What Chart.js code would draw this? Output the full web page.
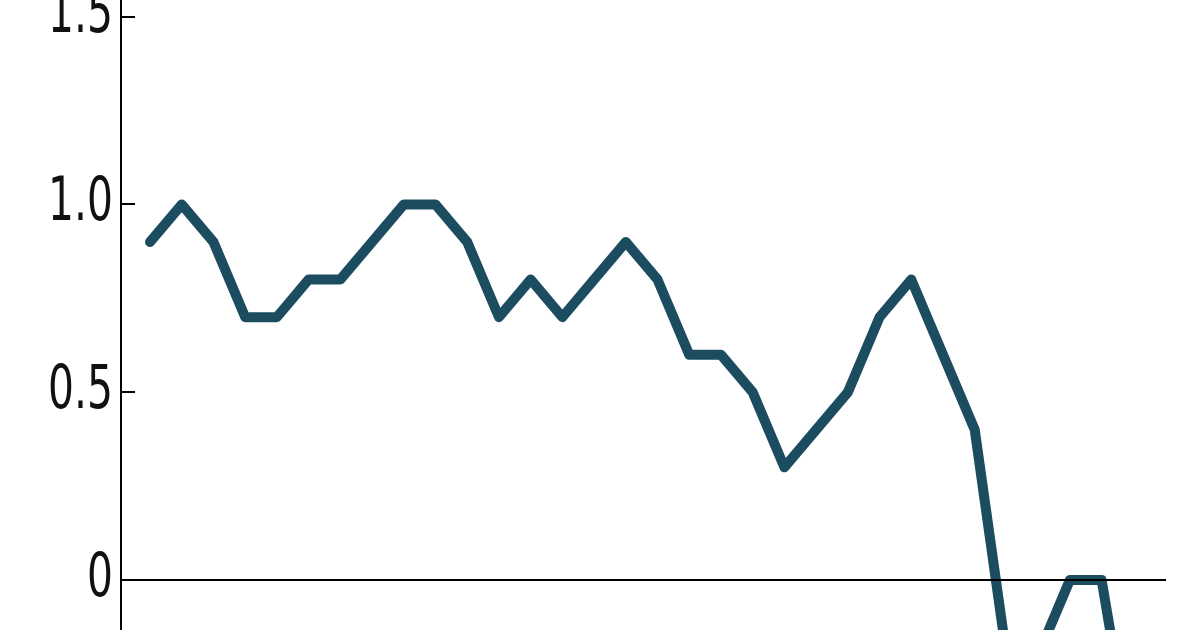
<!DOCTYPE html>
<html>
<head>
<meta charset="utf-8">
<script src="https://cdn.jsdelivr.net/npm/chart.js@4"></script>
<style>
  html, body { margin: 0; padding: 0; background: #ffffff; overflow: hidden; }
  #wrap { width: 1200px; height: 630px; }
</style>
</head>
<body>
<div id="wrap"><canvas id="c" width="1200" height="630"></canvas></div>
<script>
// ---- data ----
const periods = [0, 1, 2, 3, 4, 5, 6, 7, 8, 9, 10, 11, 12, 13, 14, 15,
                 16, 17, 18, 19, 20, 21, 22, 23, 24, 25, 26, 27, 28, 29, 30, 31];
const values = [0.9, 1.0, 0.9, 0.7, 0.7, 0.8, 0.8, 0.9, 1.0, 1.0, 0.9, 0.7, 0.8, 0.7, 0.8, 0.9,
                0.8, 0.6, 0.6, 0.5, 0.3, 0.4, 0.5, 0.7, 0.8, 0.6, 0.4, -0.2, -0.2, 0.0, 0.0, -0.5];
const tickValues = [0, 0.5, 1.0, 1.5];
const tickLabels = ['0', '0.5', '1.0', '1.5'];

// ---- view range ----
const Y_MIN = -0.1332;
const Y_MAX = 1.5446;
const X_MIN = -0.915;
const X_MAX = 32.03;
const AXIS_X = 121;
const LABEL_PAD = 8;
const LABEL_SCALE_X = 0.68;

const innerTicks = {
  id: 'innerTicks',
  afterDraw(chart) {
    const s = chart.scales.y;
    const ctx = chart.ctx;
    ctx.save();
    ctx.strokeStyle = '#000';
    ctx.lineWidth = 2;
    tickValues.forEach(v => {
      if (v === 0) return;
      const y = Math.round(s.getPixelForValue(v));
      ctx.beginPath();
      ctx.moveTo(s.right, y);
      ctx.lineTo(s.right + 14, y);
      ctx.stroke();
    });
    ctx.restore();
  }
};

new Chart(document.getElementById('c'), {
  type: 'line',
  data: {
    datasets: [{
      data: periods.map((p, i) => ({ x: p, y: values[i] })),
      borderColor: '#1b4c60',
      borderWidth: 10,
      borderJoinStyle: 'round',
      borderCapStyle: 'round',
      pointRadius: 0,
      tension: 0,
      fill: false,
      clip: false
    }]
  },
  options: {
    responsive: false,
    animation: false,
    devicePixelRatio: 1,
    layout: { padding: { left: 0, right: 34, top: 0, bottom: 0 } },
    plugins: { legend: { display: false }, tooltip: { enabled: false } },
    scales: {
      x: { type: 'linear', display: false, min: X_MIN, max: X_MAX },
      y: {
        type: 'linear',
        min: Y_MIN,
        max: Y_MAX,
        afterBuildTicks: s => { s.ticks = tickValues.map(v => ({ value: v })); },
        afterFit: s => {
          s.width = AXIS_X;
          s.paddingTop = 0;
          s.paddingBottom = 0;
          if (!s._squeezed) {
            const orig = s.drawLabels;
            s.drawLabels = function (area) {
              const c = this.ctx;
              const ax = this.right - LABEL_PAD;
              c.save();
              c.translate(ax, 0);
              c.scale(LABEL_SCALE_X, 1);
              c.translate(-ax, 0);
              orig.call(this, area);
              c.restore();
            };
            s._squeezed = true;
          }
        },
        ticks: {
          callback: (v) => { const k = tickValues.indexOf(v); return k >= 0 ? tickLabels[k] : ''; },
          font: { family: 'DejaVu Sans', size: 60 },
          color: '#111111',
          padding: LABEL_PAD,
          autoSkip: false,
          z: 2
        },
        grid: {
          drawTicks: false,
          z: 1,
          color: c => (c.tick && c.tick.value === 0) ? '#000000' : 'rgba(0,0,0,0)',
          lineWidth: 2
        },
        border: { display: true, color: '#000000', width: 2, z: 3 }
      }
    }
  },
  plugins: [innerTicks]
});
</script>
</body>
</html>
